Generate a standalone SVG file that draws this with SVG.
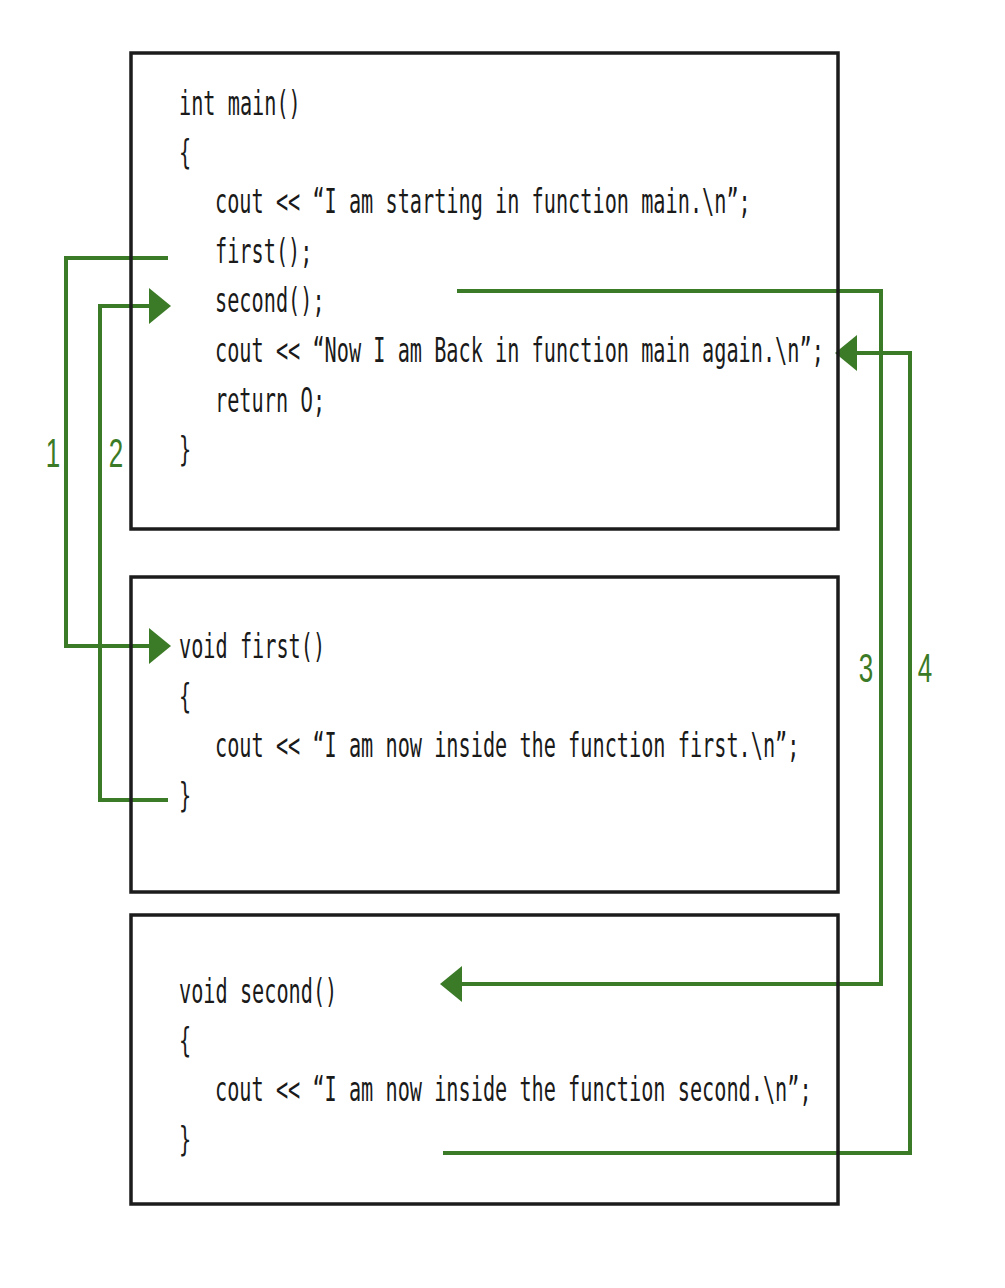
<svg xmlns="http://www.w3.org/2000/svg" width="1005" height="1288" viewBox="0 0 1005 1288">
<style>
.box{fill:none;stroke:#1c1c1c;stroke-width:3.5}
.code{font-family:"DejaVu Sans Mono","Liberation Mono",monospace;font-size:34px;fill:#1a1a1a}
.z{font-family:"DejaVu Sans","Liberation Sans",sans-serif}
.conn{fill:none;stroke:#3b7a26;stroke-width:4}
.lbl{font-family:"Liberation Sans","DejaVu Sans",sans-serif;font-size:40px;fill:#3b7a26;text-anchor:middle}
</style>
<defs>
<marker id="ah" markerUnits="userSpaceOnUse" markerWidth="22" markerHeight="36" refX="12" refY="18" orient="auto" overflow="visible">
<path d="M0,0 L22,18 L0,36 z" fill="#3b7a26"/>
</marker>
</defs>
<rect width="1005" height="1288" fill="#ffffff"/>
<g id="connectors">
<polyline class="conn" points="168,258 66,258 66,646 161,646" marker-end="url(#ah)"/>
<polyline class="conn" points="168,800 100,800 100,306 161,306" marker-end="url(#ah)"/>
<polyline class="conn" points="457,291 881,291 881,984 450,984" marker-end="url(#ah)"/>
<polyline class="conn" points="443,1153 910,1153 910,353 845,353" marker-end="url(#ah)"/>
<text class="lbl" transform="translate(53,467) scale(0.65,1)">1</text>
<text class="lbl" transform="translate(116,467) scale(0.65,1)">2</text>
<text class="lbl" transform="translate(866,682) scale(0.65,1)">3</text>
<text class="lbl" transform="translate(925,682) scale(0.65,1)">4</text>
</g>
<g id="main">
<rect class="box" x="131" y="53" width="707" height="476"/>
<g class="code">
<text transform="translate(179,115) scale(0.595,1)">int main()</text>
<text transform="translate(179,164) scale(0.595,1)">{</text>
<text transform="translate(215,213) scale(0.595,1)">cout &lt;&lt; “I am starting in function main.\n”;</text>
<text transform="translate(215,263) scale(0.595,1)">first();</text>
<text transform="translate(215,312) scale(0.595,1)">second();</text>
<text transform="translate(215,362) scale(0.595,1)">cout &lt;&lt; “Now I am Back in function main again.\n”;</text>
<text transform="translate(215,412) scale(0.595,1)">return <tspan class="z">0</tspan>;</text>
<text transform="translate(179,461) scale(0.595,1)">}</text>
</g>
</g>
<g id="first">
<rect class="box" x="131" y="577" width="707" height="315"/>
<g class="code">
<text transform="translate(179,658) scale(0.595,1)">void first()</text>
<text transform="translate(179,708) scale(0.595,1)">{</text>
<text transform="translate(215,757) scale(0.595,1)">cout &lt;&lt; “I am now inside the function first.\n”;</text>
<text transform="translate(179,807) scale(0.595,1)">}</text>
</g>
</g>
<g id="second">
<rect class="box" x="131" y="915" width="707" height="289"/>
<g class="code">
<text transform="translate(179,1003) scale(0.595,1)">void second()</text>
<text transform="translate(179,1052) scale(0.595,1)">{</text>
<text transform="translate(215,1101) scale(0.595,1)">cout &lt;&lt; “I am now inside the function second.\n”;</text>
<text transform="translate(179,1151) scale(0.595,1)">}</text>
</g>
</g>
</svg>
